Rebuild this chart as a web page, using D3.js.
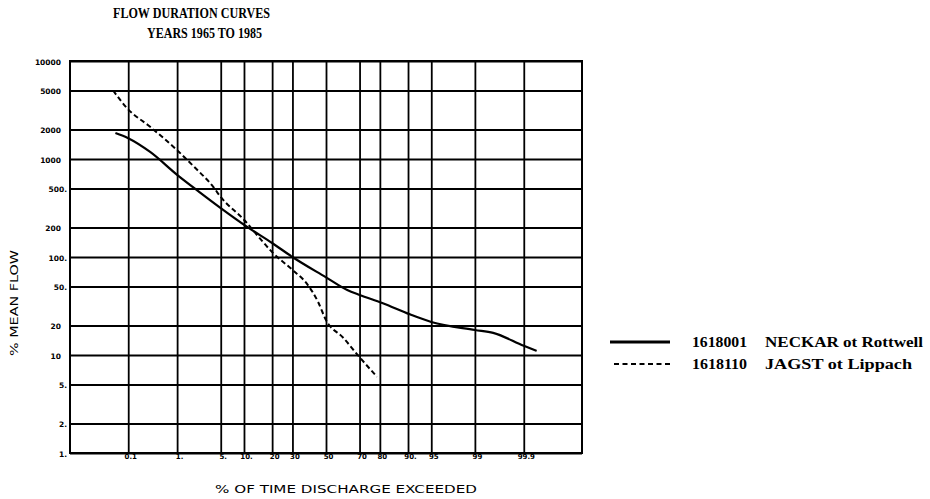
<!DOCTYPE html>
<html>
<head>
<meta charset="utf-8">
<script src="https://cdn.jsdelivr.net/npm/d3@7"></script>
<style>
	body { margin: 0; background: #fff; }
	svg { display: block; }
</style>
</head>
<body>
<div id="graph"></div>
<script>
// probability axis ticks (% of time exceeded)
var xTicks = [0.1, 1, 5, 10, 20, 30, 50, 70, 80, 90, 95, 99, 99.9]
var xLabels = ['0.1', '1.', '5.', '10.', '20', '30', '50', '70', '80', '90.', '95', '99', '99.9']

// log axis ticks (% mean flow)
var yTicks = [1, 2, 5, 10, 20, 50, 100, 200, 500, 1000, 2000, 5000, 10000]
var yLabels = ['1.', '2.', '5.', '10', '20', '50.', '100.', '200', '500.', '1000', '2000', '5000', '10000']

// 1618001 NECKAR ot Rottwell
var neckarPct  = [0.05, 0.1, 0.3, 1, 2.4, 5, 11, 20, 30, 50, 63, 70, 81, 90.5, 95, 99, 99.55, 99.9, 99.95]
var neckarFlow = [1840, 1630, 1180, 690, 460, 316, 202, 139, 100, 62, 46, 41, 34, 26, 21.7, 18, 16.8, 12.4, 11]

// 1618110 JAGST ot Lippach
var jagstPct  = [0.044, 0.094, 0.3, 1, 1.9, 3.9, 5, 10, 15, 20, 30, 38, 45, 50, 60.6, 70, 78.7]
var jagstFlow = [5000, 3300, 2130, 1230, 850, 520, 410, 240, 156, 112, 74, 54, 35, 22.7, 15, 9.5, 6.0]

var w = 930
var h = 499
var plotL = 70, plotR = 582, plotT = 61, plotB = 453

// inverse normal cdf (Acklam), used for the probability scale
function probit(p) {
	var a = [-3.969683028665376e+01, 2.209460984245205e+02, -2.759285104469687e+02, 1.383577518672690e+02, -3.066479806614716e+01, 2.506628277459239e+00]
	var b = [-5.447609879822406e+01, 1.615858368580409e+02, -1.556989798598866e+02, 6.680131188771972e+01, -1.328068155288572e+01]
	var c = [-7.784894002430293e-03, -3.223964580411365e-01, -2.400758277161838e+00, -2.549732539343734e+00, 4.374664141464968e+00, 2.938163982698783e+00]
	var d = [7.784695709041462e-03, 3.224671290700398e-01, 2.445134137142996e+00, 3.754408661907416e+00]
	var pl = 0.02425, q, r
	if (p < pl) {
		q = Math.sqrt(-2 * Math.log(p))
		return (((((c[0]*q+c[1])*q+c[2])*q+c[3])*q+c[4])*q+c[5]) / ((((d[0]*q+d[1])*q+d[2])*q+d[3])*q+1)
	}
	if (p > 1 - pl) {
		q = Math.sqrt(-2 * Math.log(1 - p))
		return -(((((c[0]*q+c[1])*q+c[2])*q+c[3])*q+c[4])*q+c[5]) / ((((d[0]*q+d[1])*q+d[2])*q+d[3])*q+1)
	}
	q = p - 0.5
	r = q * q
	return (((((a[0]*r+a[1])*r+a[2])*r+a[3])*r+a[4])*r+a[5])*q / (((((b[0]*r+b[1])*r+b[2])*r+b[3])*r+b[4])*r+1)
}

var zScale = d3.scaleLinear()
	.domain([-4, 4])
	.range([plotL, plotR])
var x = (pct) => zScale(probit(pct / 100))

var yScale = d3.scaleLog()
	.domain([1, 10000])
	.range([plotB, plotT])

var svg = d3.select('#graph')
	.append('svg')
	.attr('width', w)
	.attr('height', h)

// title
var serif = '"Liberation Serif", "DejaVu Serif", serif'
svg.append('text')
	.attr('x', 113).attr('y', 18)
	.attr('textLength', 157).attr('lengthAdjust', 'spacingAndGlyphs')
	.attr('font-family', serif).attr('font-weight', 'bold').attr('font-size', 15)
	.text('FLOW DURATION CURVES')
svg.append('text')
	.attr('x', 147).attr('y', 38)
	.attr('textLength', 115).attr('lengthAdjust', 'spacingAndGlyphs')
	.attr('font-family', serif).attr('font-weight', 'bold').attr('font-size', 15)
	.text('YEARS 1965 TO 1985')

// y axis + horizontal grid
var yAxis = d3.axisLeft(yScale)
	.tickValues(yTicks)
	.tickFormat((d, i) => yLabels[i])
	.tickSize(-(plotR - plotL))
	.tickPadding(9)

var yg = svg.append('g')
	.attr('transform', 'translate(' + plotL + ',0)')
	.call(yAxis)
yg.select('.domain').remove()
yg.selectAll('line').attr('stroke', '#000').attr('stroke-width', 1.8)
yg.selectAll('text')
	.attr('font-family', '"DejaVu Sans", sans-serif')
	.attr('font-weight', 'bold')
	.attr('font-size', 7.5)
	.attr('fill', '#000')
	.attr('dy', '0.45em')
	.attr('dx', (d, i) => yLabels[i].slice(-1) == '.' ? 6 : 0)

// x axis + vertical grid
var xAxis = d3.axisBottom(zScale)
	.tickValues(xTicks.map((p) => probit(p / 100)))
	.tickFormat((d, i) => xLabels[i])
	.tickSize(-(plotB - plotT))
	.tickPadding(1)

var xg = svg.append('g')
	.attr('transform', 'translate(0,' + plotB + ')')
	.call(xAxis)
xg.select('.domain').remove()
xg.selectAll('line').attr('stroke', '#000').attr('stroke-width', 1.8)
xg.selectAll('text')
	.attr('font-family', '"DejaVu Sans", sans-serif')
	.attr('font-weight', 'bold')
	.attr('font-size', 7)
	.attr('fill', '#000')
	.attr('dx', 2)

// frame
svg.append('rect')
	.attr('x', plotL).attr('y', plotT)
	.attr('width', plotR - plotL).attr('height', plotB - plotT)
	.attr('fill', 'none').attr('stroke', '#000').attr('stroke-width', 2)

// axis titles
svg.append('text')
	.attr('x', 215).attr('y', 493)
	.attr('textLength', 262).attr('lengthAdjust', 'spacingAndGlyphs')
	.attr('font-family', '"DejaVu Sans", sans-serif').attr('font-size', 10.5)
	.text('% OF TIME DISCHARGE EXCEEDED')

svg.append('text')
	.attr('transform', 'translate(18,303) rotate(-90)')
	.attr('text-anchor', 'middle')
	.attr('textLength', 106).attr('lengthAdjust', 'spacingAndGlyphs')
	.attr('font-family', '"DejaVu Sans", sans-serif').attr('font-size', 10.5)
	.text('% MEAN FLOW')

// curves
var series = [
	{ code: '1618001', name: 'NECKAR ot Rottwell', pct: neckarPct, flow: neckarFlow, dash: null, lw: 2.2 },
	{ code: '1618110', name: 'JAGST ot Lippach', pct: jagstPct, flow: jagstFlow, dash: '5,3', lw: 2 }
]

var line = d3.line()
	.x((d) => x(d[0]))
	.y((d) => yScale(d[1]))
	.curve(d3.curveMonotoneX)

svg.selectAll('path.curve')
	.data(series)
	.enter()
	.append('path')
	.attr('class', 'curve')
	.attr('d', (s) => line(d3.zip(s.pct, s.flow)))
	.attr('fill', 'none')
	.attr('stroke', '#000')
	.attr('stroke-width', (s) => s.lw)
	.attr('stroke-dasharray', (s) => s.dash)

// legend
var legend = svg.selectAll('g.legend')
	.data(series)
	.enter()
	.append('g')
	.attr('class', 'legend')
	.attr('transform', (s, i) => 'translate(0,' + (342 + i * 22) + ')')

legend.append('line')
	.attr('x1', (s, i) => i == 0 ? 610 : 614).attr('x2', 670)
	.attr('stroke', '#000')
	.attr('stroke-width', (s, i) => i == 0 ? 3 : 1.8)
	.attr('stroke-dasharray', (s) => s.dash ? '5,3.5' : null)

legend.append('text')
	.attr('x', 692).attr('y', 5)
	.attr('textLength', 55).attr('lengthAdjust', 'spacingAndGlyphs')
	.attr('font-family', serif).attr('font-weight', 'bold').attr('font-size', 14)
	.text((s) => s.code)

legend.append('text')
	.attr('x', 765).attr('y', 5)
	.attr('textLength', (s, i) => i == 0 ? 158 : 147).attr('lengthAdjust', 'spacingAndGlyphs')
	.attr('font-family', serif).attr('font-weight', 'bold').attr('font-size', 14)
	.text((s) => s.name)
</script>
</body>
</html>
